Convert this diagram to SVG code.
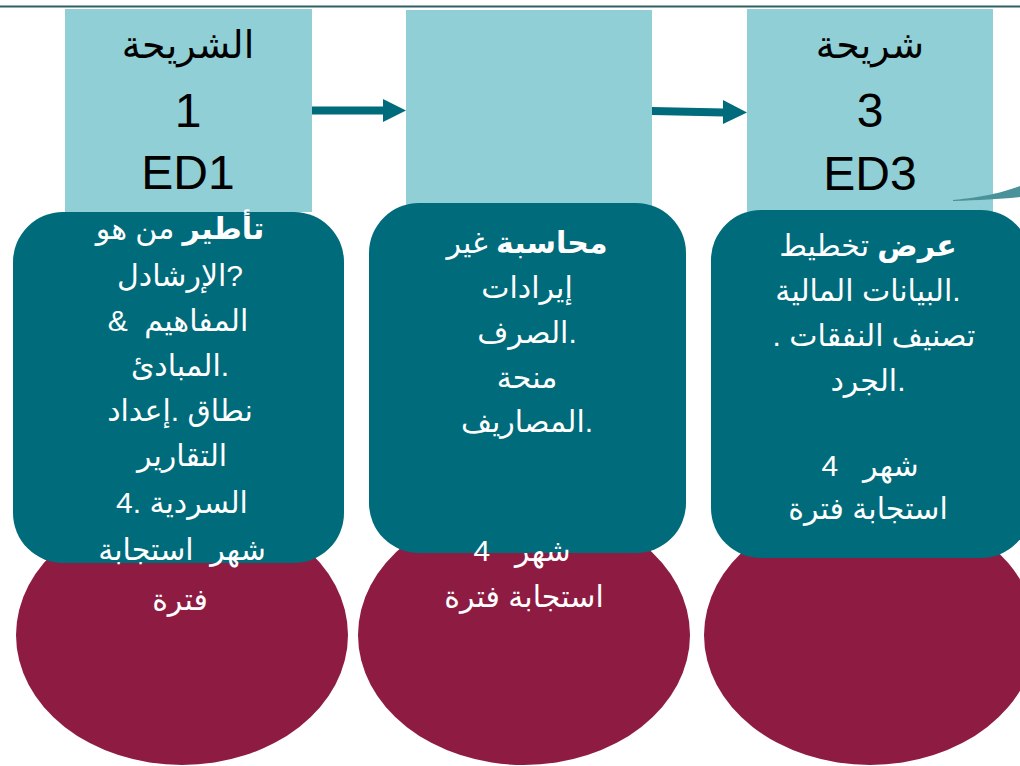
<svg xmlns="http://www.w3.org/2000/svg" width="1020" height="766" viewBox="0 0 1020 766">
<defs>
<style>
.head{fill:#8FCFD5}
.body{fill:#006B7A}
.oval{fill:#8E1C42}
.ttl{font-family:"Liberation Sans","DejaVu Sans",sans-serif;fill:#000;text-anchor:middle}
.ar{font-size:38px}
.big{font-size:48px}
.txt{font-family:"Liberation Sans","DejaVu Sans",sans-serif;fill:#fff;text-anchor:middle;font-size:30px}
.pre{white-space:pre}
.b{font-weight:bold}
.arrow{fill:#006B7A}
</style>
</defs>
<rect width="1020" height="766" fill="#fff"/>
<line x1="0" y1="6.5" x2="1020" y2="6.5" stroke="#2E5F63" stroke-width="2"/>

<g id="node1">
<ellipse class="oval" cx="182" cy="635" rx="166" ry="130"/>
<rect class="head" x="65" y="9" width="247" height="203"/>
<text class="ttl ar" x="188" y="58">الشريحة</text>
<text class="ttl big" x="188" y="127">1</text>
<text class="ttl big" x="188" y="189">ED1</text>
<rect class="body" x="13" y="212" width="331" height="351" rx="50"/>
<text class="txt" x="180" y="239"><tspan class="b">تأطير</tspan> من هو</text>
<text class="txt" x="180" y="286">الإرشادل?</text>
<text class="txt pre" x="178" y="331" xml:space="preserve">&amp;  المفاهيم</text>
<text class="txt" x="180" y="376">المبادئ.</text>
<text class="txt" x="180" y="421">نطاق .إعداد</text>
<text class="txt" x="182" y="466">التقارير</text>
<text class="txt" x="182" y="513">4. السردية</text>
<text class="txt pre" x="182" y="560" xml:space="preserve">شهر  استجابة</text>
<text class="txt" x="180" y="610">فترة</text>
</g>

<g id="node2">
<ellipse class="oval" cx="524" cy="635" rx="166" ry="130"/>
<rect class="head" x="406" y="10" width="246" height="196"/>
<rect class="body" x="369" y="203" width="317" height="350" rx="50"/>
<text class="txt" x="527" y="253"><tspan class="b">محاسبة</tspan> غير</text>
<text class="txt" x="527" y="298">إيرادات</text>
<text class="txt" x="527" y="343">الصرف.</text>
<text class="txt" x="527" y="388">منحة</text>
<text class="txt" x="527" y="432">المصاريف.</text>
<text class="txt pre" x="522" y="561" xml:space="preserve">شهر   4</text>
<text class="txt" x="524" y="607">استجابة فترة</text>
</g>

<g id="node3">
<ellipse class="oval" cx="870" cy="635" rx="166" ry="130"/>
<rect class="head" x="747" y="9" width="246" height="203"/>
<text class="ttl ar" x="870" y="58">شريحة</text>
<text class="ttl big" x="870" y="127">3</text>
<text class="ttl big" x="870" y="190">ED3</text>
<rect class="body" x="711" y="210" width="320" height="348" rx="50"/>
<text class="txt" x="868" y="256"><tspan class="b">عرض</tspan> تخطيط</text>
<text class="txt" x="868" y="301">البيانات المالية.</text>
<text class="txt" x="874" y="346">. تصنيف النفقات</text>
<text class="txt" x="868" y="391">الجرد.</text>
<text class="txt pre" x="870" y="476" xml:space="preserve">شهر   4</text>
<text class="txt" x="868" y="519">استجابة فترة</text>
</g>

<g id="connectors">
<rect class="arrow" x="312" y="106.5" width="73" height="8"/>
<polygon class="arrow" points="383,99 406,110.5 383,122"/>
<polygon class="arrow" points="652,107 724,108.5 724,116.5 652,115"/>
<polygon class="arrow" points="723,100 747,112.5 723,124"/>
<path d="M953,200 C985,197 1004,192 1020,186 L1020,197 C1000,199 980,200 953,201 Z" fill="#4A9299"/>
</g>
</svg>
